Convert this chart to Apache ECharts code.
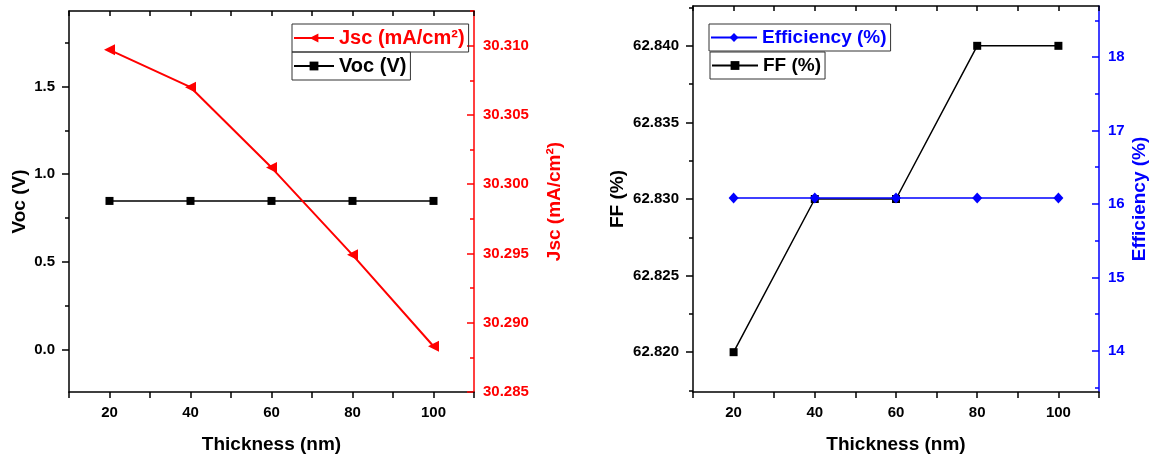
<!DOCTYPE html>
<html>
<head>
<meta charset="utf-8">
<script src="https://cdn.jsdelivr.net/npm/echarts@6/dist/echarts.min.js"></script>
<style>
html,body{margin:0;padding:0;background:#fff;}
#chart{width:1153px;height:459px;}
</style>
</head>
<body>
<div id="chart"></div>
<script>
const thickness = [20, 40, 60, 80, 100];
const vocValues = [0.848, 0.848, 0.848, 0.848, 0.848];
const jscValues = [30.3097, 30.3070, 30.3012, 30.2949, 30.2883];
const ffValues = [62.820, 62.830, 62.830, 62.840, 62.840];
const effValues = [16.08, 16.08, 16.08, 16.08, 16.08];

const xTickLabels = ['20', '40', '60', '80', '100'];
const vocTicks = [0, 0.5, 1.0, 1.5];
const vocMinorTicks = [0.25, 0.75, 1.25, 1.75];
const jscTicks = [30.285, 30.290, 30.295, 30.300, 30.305, 30.310];
const jscMinorTicks = [30.2875, 30.2925, 30.2975, 30.3025, 30.3075, 30.3125];
const ffTicks = [62.820, 62.825, 62.830, 62.835, 62.840];
const ffMinorTicks = [62.8175, 62.8225, 62.8275, 62.8325, 62.8375, 62.8425];
const effTicks = [14, 15, 16, 17, 18];
const effMinorTicks = [13.5, 14.5, 15.5, 16.5, 17.5, 18.5];

const FONT = "'Liberation Sans', Arial, sans-serif";
const pairs = (xs, ys) => xs.map((x, i) => [x, ys[i]]);

function xAxisPair(grid) {
  return [
    {
      type: 'value', gridIndex: grid, position: 'bottom', min: 10, max: 110, interval: 10,
      axisLine: { show: true, onZero: false, lineStyle: { color: '#000', width: 1.5 } },
      axisTick: { show: true, inside: false, length: 6, lineStyle: { color: '#000', width: 1.5 } },
      axisLabel: {
        color: '#000', fontFamily: FONT, fontWeight: 'bold', fontSize: 15, margin: 13,
        formatter: v => (xTickLabels.indexOf(String(v)) >= 0 ? String(v) : '')
      },
      splitLine: { show: false },
      name: 'Thickness (nm)', nameLocation: 'middle', nameGap: 43, nameMoveOverlap: false,
      nameTextStyle: { color: '#000', fontFamily: FONT, fontWeight: 'bold', fontSize: 19 }
    },
    {
      type: 'value', gridIndex: grid, position: 'top', min: 10, max: 110, interval: 10,
      axisLine: { show: true, onZero: false, lineStyle: { color: '#000', width: 1.5 } },
      axisTick: { show: true, inside: true, length: 5, lineStyle: { color: '#000', width: 1.5 } },
      axisLabel: { show: false },
      splitLine: { show: false }
    }
  ];
}

function yAxes(grid, pos, min, max, ticks, minor, dec, color, name, nameGap, tickInside) {
  return [
    {
      type: 'value', gridIndex: grid, position: pos, min: min, max: max,
      axisLine: { show: true, onZero: false, lineStyle: { color: color, width: 1.5 } },
      axisTick: { show: true, inside: tickInside, length: 7, customValues: ticks,
                  lineStyle: { color: color, width: 1.5 } },
      axisLabel: {
        color: color, fontFamily: FONT, fontWeight: 'bold', fontSize: 15, margin: tickInside ? 9 : 14,
        customValues: ticks,
        formatter: v => v.toFixed(dec)
      },
      splitLine: { show: false },
      name: name, nameLocation: 'middle', nameRotate: 90, nameGap: nameGap, nameMoveOverlap: false,
      nameTextStyle: { color: color, fontFamily: FONT, fontWeight: 'bold', fontSize: 19 }
    },
    {
      type: 'value', gridIndex: grid, position: pos, offset: 0, min: min, max: max,
      axisLine: { show: false },
      axisTick: { show: true, inside: tickInside, length: 4, customValues: minor,
                  lineStyle: { color: color, width: 1.5 } },
      axisLabel: { show: false },
      splitLine: { show: false }
    }
  ];
}

function legend(name, left, top, color, iconWidth, fontSize) {
  return {
    data: [name], left: left, top: top, orient: 'vertical',
    selectedMode: false,
    borderColor: '#333', borderWidth: 1, borderRadius: 0,
    padding: [4, 4, 4, 1], itemWidth: iconWidth, itemHeight: 11, itemGap: 4,
    textStyle: { color: color, fontFamily: FONT, fontWeight: 'bold', fontSize: fontSize }
  };
}

const chart = echarts.init(document.getElementById('chart'), null, { renderer: 'canvas' });
chart.setOption({
  animation: false,
  backgroundColor: '#fff',
  grid: [
    { left: 69, top: 11, right: 679, bottom: 65, containLabel: false },
    { left: 693, top: 6, right: 54, bottom: 67, containLabel: false }
  ],
  legend: [
    legend('Jsc (mA/cm²)', 292, 24, '#ff0000', 40, 20),
    legend('Voc (V)', 292, 52, '#000', 40, 20),
    legend('Efficiency (%)', 709, 24, '#0000ff', 46, 19),
    legend('FF (%)', 710, 52, '#000', 46, 19)
  ],
  xAxis: [...xAxisPair(0), ...xAxisPair(1)],
  yAxis: [
    ...yAxes(0, 'left', -0.2395, 1.929, vocTicks, vocMinorTicks, 1, '#000', 'Voc (V)', 40, false),
    ...yAxes(0, 'right', 30.285, 30.3125, jscTicks, jscMinorTicks, 3, '#ff0000', 'Jsc (mA/cm²)', 71, true),
    ...yAxes(1, 'left', 62.8174, 62.8426, ffTicks, ffMinorTicks, 3, '#000', 'FF (%)', 66, false),
    ...yAxes(1, 'right', 13.442, 18.694, effTicks, effMinorTicks, 0, '#0000ff', 'Efficiency (%)', 31, true)
  ],
  series: [
    {
      name: 'Voc (V)', type: 'line', xAxisIndex: 0, yAxisIndex: 0,
      data: pairs(thickness, vocValues),
      symbol: 'rect', symbolSize: 8, color: '#000',
      itemStyle: { color: '#000' }, lineStyle: { color: '#000', width: 1.5 }, z: 2
    },
    {
      name: 'Jsc (mA/cm²)', type: 'line', xAxisIndex: 0, yAxisIndex: 2,
      data: pairs(thickness, jscValues),
      symbol: 'triangle', symbolRotate: 90, symbolSize: [11, 11], color: '#ff0000',
      itemStyle: { color: '#ff0000' }, lineStyle: { color: '#ff0000', width: 2 }, z: 3
    },
    {
      name: 'FF (%)', type: 'line', xAxisIndex: 2, yAxisIndex: 4,
      data: pairs(thickness, ffValues),
      symbol: 'rect', symbolSize: 8, color: '#000',
      itemStyle: { color: '#000' }, lineStyle: { color: '#000', width: 1.5 }, z: 2
    },
    {
      name: 'Efficiency (%)', type: 'line', xAxisIndex: 2, yAxisIndex: 6,
      data: pairs(thickness, effValues),
      symbol: 'diamond', symbolSize: [10, 11], color: '#0000ff',
      itemStyle: { color: '#0000ff' }, lineStyle: { color: '#0000ff', width: 1.5 }, z: 3
    }
  ]
});
</script>
</body>
</html>
